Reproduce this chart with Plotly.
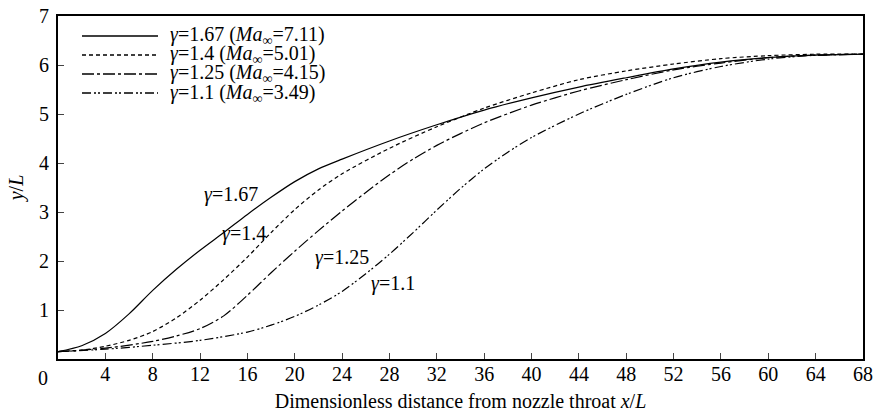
import plotly.graph_objects as go

# nozzle contours y/L vs x/L for four gamma values
x_167 = [0, 2, 4, 6, 8, 10, 12, 14, 16, 18, 20, 22, 24, 28, 32, 36, 40, 44, 48, 52, 56, 60, 64, 68]
y_167 = [0.15, 0.27, 0.52, 0.92, 1.4, 1.83, 2.22, 2.58, 2.95, 3.3, 3.62, 3.88, 4.08, 4.45, 4.78, 5.08, 5.33, 5.55, 5.74, 5.92, 6.06, 6.15, 6.2, 6.22]

x_14 = [0, 2, 4, 6, 8, 10, 12, 14, 16, 18, 20, 22, 24, 28, 32, 36, 40, 44, 48, 52, 56, 60, 64, 68]
y_14 = [0.15, 0.18, 0.26, 0.38, 0.56, 0.84, 1.2, 1.62, 2.08, 2.58, 3.05, 3.45, 3.78, 4.3, 4.74, 5.12, 5.43, 5.7, 5.88, 6.02, 6.13, 6.19, 6.22, 6.22]

x_125 = [0, 4, 8, 10, 12, 14, 16, 18, 20, 22, 24, 26, 28, 30, 32, 34, 36, 40, 44, 48, 52, 56, 60, 64, 68]
y_125 = [0.15, 0.22, 0.36, 0.47, 0.62, 0.88, 1.3, 1.76, 2.2, 2.62, 3.02, 3.4, 3.76, 4.08, 4.36, 4.6, 4.82, 5.18, 5.47, 5.7, 5.9, 6.04, 6.15, 6.2, 6.22]

x_11 = [0, 4, 8, 12, 16, 18, 20, 22, 24, 26, 28, 30, 32, 34, 36, 38, 40, 44, 48, 52, 56, 60, 64, 68]
y_11 = [0.15, 0.2, 0.28, 0.38, 0.55, 0.69, 0.87, 1.1, 1.38, 1.74, 2.14, 2.58, 3.04, 3.48, 3.88, 4.22, 4.52, 5.0, 5.4, 5.74, 5.97, 6.12, 6.2, 6.22]

legend_names = ["<i>γ</i>=1.67 (<i>Ma</i><sub>∞</sub>=7.11)",
                "<i>γ</i>=1.4 (<i>Ma</i><sub>∞</sub>=5.01)",
                "<i>γ</i>=1.25 (<i>Ma</i><sub>∞</sub>=4.15)",
                "<i>γ</i>=1.1 (<i>Ma</i><sub>∞</sub>=3.49)"]
curve_labels = ["<i>γ</i>=1.67", "<i>γ</i>=1.4", "<i>γ</i>=1.25", "<i>γ</i>=1.1"]
label_x = [14.6, 15.7, 24.0, 28.3]
label_y = [3.35, 2.57, 2.08, 1.55]

xticks = list(range(4, 69, 4))
yticks = [1, 2, 3, 4, 5, 6, 7]

dashes = ["solid", "4px,3px", "12px,3px,3px,3px", "9px,3px,2px,2px,2px,3px"]
FONT = "Times New Roman, Liberation Serif, serif"

fig = go.Figure()
series = [(x_167, y_167), (x_14, y_14), (x_125, y_125), (x_11, y_11)]
for (xs, ys), d, nm in zip(series, dashes, legend_names):
    fig.add_trace(go.Scatter(x=xs, y=ys, mode="lines", name=nm, line_shape="spline",
                             line=dict(color="black", width=1.2, dash=d, smoothing=0.8),
                             showlegend=False))

# hand-drawn legend (longer line samples than plotly's)
leg_y = [36, 55, 74, 93]
for d, nm, py in zip(dashes, legend_names, leg_y):
    yy = 1 - (py - 16) / (359 - 16)
    fig.add_shape(type="line", xref="paper", yref="paper",
                  x0=(82 - 58) / 805, x1=(158 - 58) / 805, y0=yy, y1=yy,
                  line=dict(color="black", width=1.3, dash=d))
    fig.add_annotation(xref="paper", yref="paper", x=(168 - 58) / 805, y=yy, text=nm,
                       showarrow=False, xanchor="left", yanchor="middle",
                       font=dict(family=FONT, size=20, color="black"))

for t, lx, ly in zip(curve_labels, label_x, label_y):
    fig.add_annotation(x=lx, y=ly, text=t, showarrow=False,
                       font=dict(family=FONT, size=20, color="black"))

# shared origin label
fig.add_annotation(xref="paper", yref="paper", x=0, y=0, text="0", showarrow=False,
                   xanchor="center", yanchor="middle",
                   xshift=-15, yshift=-19, font=dict(family=FONT, size=20, color="black"))

fig.update_layout(
    width=873, height=416, autosize=False,
    margin=dict(l=58, r=10, t=16, b=57),
    plot_bgcolor="white", paper_bgcolor="white",
    font=dict(family=FONT, size=20, color="black"),
    xaxis=dict(range=[0, 68], tickvals=xticks, ticks="inside", ticklen=6, tickwidth=1.3,
               showline=True, linecolor="black", linewidth=1.8, mirror=True,
               showgrid=False, zeroline=False, ticklabelstandoff=-4, automargin=False,
               tickfont=dict(family=FONT, size=20),
               title=dict(text="Dimensionless distance from nozzle throat <i>x</i>/<i>L</i>",
                          standoff=10, font=dict(family=FONT, size=20))),
    yaxis=dict(range=[0, 7], tickvals=yticks, ticks="inside", ticklen=6, tickwidth=1.3,
               showline=True, linecolor="black", linewidth=1.8, mirror=True,
               showgrid=False, zeroline=False, ticklabelstandoff=3, automargin=False,
               tickfont=dict(family=FONT, size=20),
               title=dict(text="<i>y</i>/<i>L</i>", standoff=10, font=dict(family=FONT, size=20))),
)

# page body has an 8px default margin; remove it so the figure sits at the corner
fig.write_html("out.html",
               config={"displayModeBar": False, "responsive": False},
               post_script="document.body.style.margin='0';document.body.style.overflow='hidden';")
